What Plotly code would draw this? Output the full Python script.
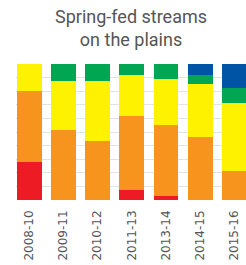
import plotly.graph_objects as go

categories = ["2008-10", "2009-11", "2010-12", "2011-13", "2013-14", "2014-15", "2015-16"]
red = [28, 0, 0, 7, 3, 0, 0]
orange = [52, 51.5, 43.5, 54.5, 52, 46, 21.5]
yellow = [20, 36, 44, 30.5, 34, 39, 50]
green = [0, 12.5, 12.5, 8, 11, 7, 11]
blue = [0, 0, 0, 0, 0, 8, 17.5]

series = [
    ("Red", red, "#ED1C24"),
    ("Orange", orange, "#F7941D"),
    ("Yellow", yellow, "#FFF200"),
    ("Green", green, "#00A651"),
    ("Blue", blue, "#0054A6"),
]

fig = go.Figure()
for name, vals, col in series:
    fig.add_trace(go.Bar(x=categories, y=vals, name=name, hoverinfo="skip",
                         marker=dict(color=col, line=dict(width=0))))

fig.update_layout(
    width=246, height=265, autosize=False,
    barmode="stack", bargap=0.27,
    showlegend=False,
    paper_bgcolor="white", plot_bgcolor="white",
    margin=dict(l=16, r=0, t=64, b=65, pad=0, autoexpand=False),
    font=dict(family="Roboto", color="#555555"),
    xaxis=dict(type="category", range=[-0.386, 6.34], tickangle=-90,
               tickfont=dict(size=12, family="DejaVu Sans", color="#555555"),
               ticklabelstandoff=7,
               showgrid=False, showline=False, ticks="", automargin=False),
    yaxis=dict(range=[0, 100], dtick=10, showticklabels=False, showgrid=True,
               gridcolor="#e3e3e3", gridwidth=1, zeroline=False, showline=False,
               automargin=False),
    annotations=[dict(text="Spring-fed streams<br>on the plains", x=0.5, xref="paper",
                      y=1, yref="paper", yshift=60, yanchor="top", showarrow=False,
                      font=dict(size=18, family="Roboto", color="#555555"))],
)

fig.write_html("out.html", config={"displayModeBar": False},
               post_script="document.body.style.margin='0px';document.body.style.overflow='hidden';")
